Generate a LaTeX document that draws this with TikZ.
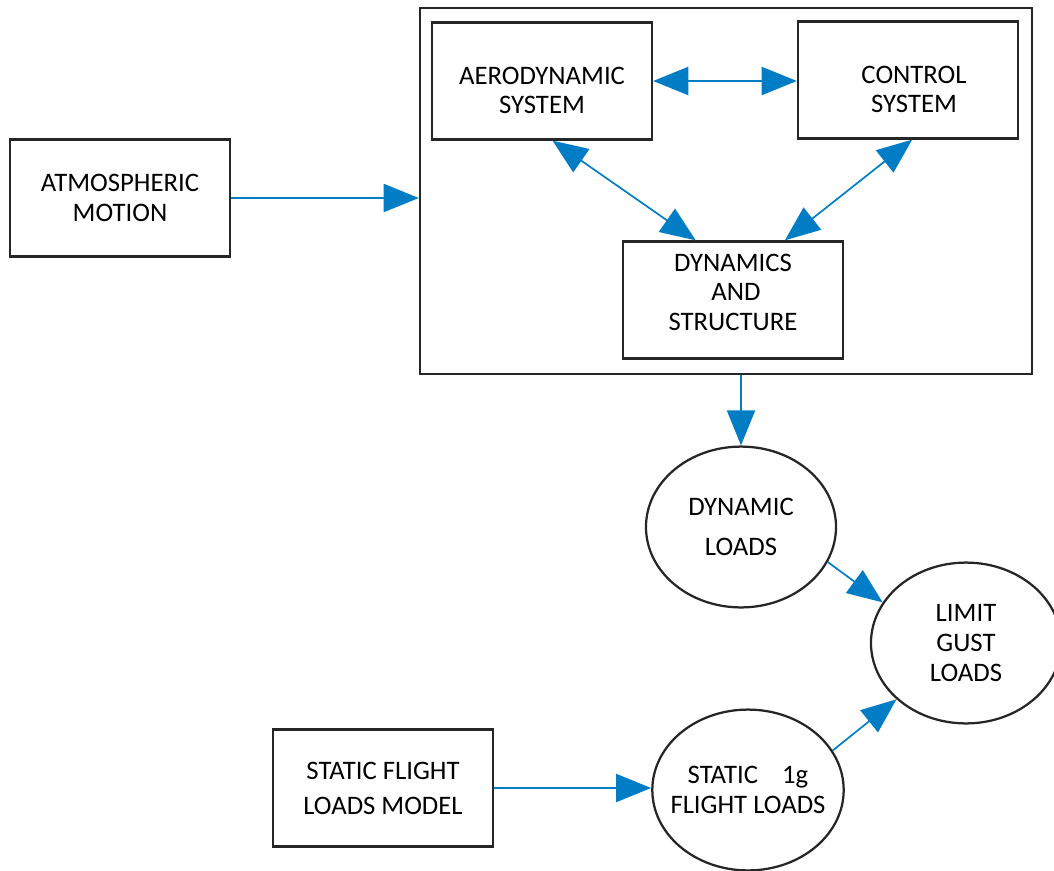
\documentclass[tikz,border=0pt]{standalone}
\usepackage{fontspec}
\setmainfont{Carlito}
\usetikzlibrary{arrows.meta,shapes.geometric}
\definecolor{flowblue}{RGB}{0,125,197}
\tikzstyle{blk}=[shape=rectangle,
                draw=black!85,
                line width=1.6pt,
                minimum width=5.5cm,
                minimum height=2.925cm,
                align=center,
                font=\fontsize{19}{21}\selectfont]
\tikzstyle{sysbox}=[shape=rectangle,
                draw=black!85,
                line width=1.6pt,
                minimum width=15.3cm,
                minimum height=9.15cm]
\tikzstyle{ld}=[shape=ellipse,
                draw=black!85,
                line width=1.6pt,
                minimum width=4.75cm,
                minimum height=4.02cm,
                inner sep=0pt,
                align=center,
                font=\fontsize{19}{21}\selectfont]
\tikzstyle{flow}=[color=flowblue, line width=1.2pt]

\begin{document}
\begin{tikzpicture}[x=0.025cm,y=-0.025cm,>={Triangle[length=25pt,width=20pt]}]
\useasboundingbox (0,0) rectangle (1054,870);

% coupled system
\node[sysbox] (sys) at (726,191) {};
\node[blk, text height=47pt] (aero) at (542,81) {AERODYNAMIC\\SYSTEM};
\node[blk, text height=47pt] (ctrl) at (908,80) {\ \ CONTROL\\\ \ SYSTEM};
\node[blk, text depth=11pt] (dyn) at (733,300)  {DYNAMICS\\\ AND\\STRUCTURE};

% inputs
\node[blk] (atmo)  at (120,198)   {ATMOSPHERIC\\MOTION};
\node[blk] (model) at (383,788)   {STATIC FLIGHT\\[4pt]LOADS MODEL};

% loads
\node[ld] (dynld) at (741,527)    {DYNAMIC\\[8pt]LOADS};
\node[ld] (limit) at (966,643)    {LIMIT\\GUST\\LOADS};
\node[ld, inner xsep=-7pt] (statld) at (748,790) {STATIC\ \ \ \ 1g\\FLIGHT LOADS};

% paths
\path[<->, flow] (aero.east) edge (aero.east -| ctrl.west)
                 (aero.-80.4) edge (dyn.122.1)
                 (ctrl.-86) edge (dyn.49.2);
\path[->, flow]  (atmo.east) edge (atmo.east -| sys.west)
                 (dynld.north |- sys.south) edge (dynld.north)
                 (model.east) edge (model.east -| statld.west)
                 (dynld.-22.5) edge (limit.154.3)
                 (statld.25.1) edge (limit.-141);

\end{tikzpicture}
\end{document}
